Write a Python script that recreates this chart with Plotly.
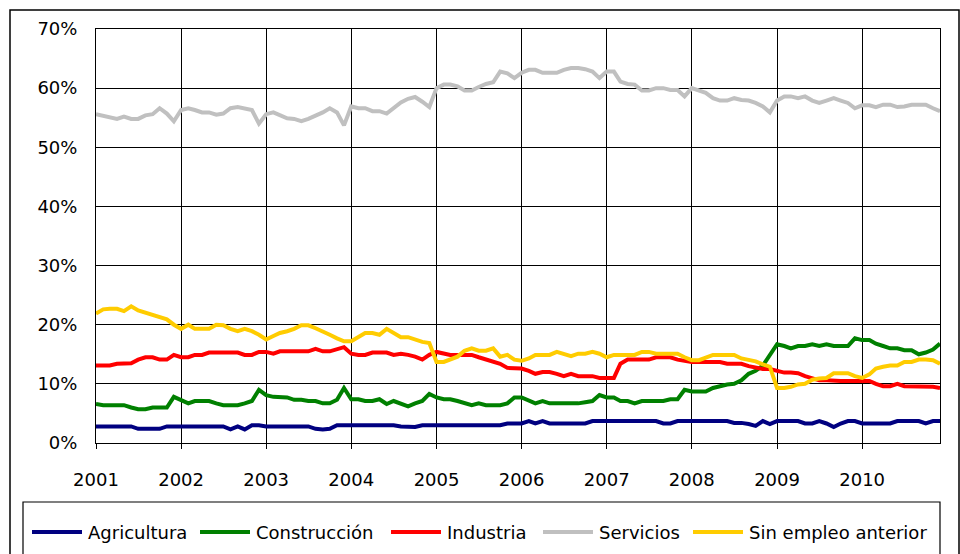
"""Monthly share of unemployed by previous sector, 2001-2010."""

import pandas as pd
import plotly.graph_objects as go

# Monthly observations, Jan 2001 .. Dec 2010 (percent)
months = pd.date_range("2001-01-01", periods=120, freq="MS")

agricultura = [
    2.8, 2.8, 2.8, 2.8, 2.8, 2.8, 2.4, 2.4, 2.4, 2.4,
    2.8, 2.8, 2.8, 2.8, 2.8, 2.8, 2.8, 2.8, 2.8, 2.3,
    2.8, 2.3, 3.0, 3.0, 2.8, 2.8, 2.8, 2.8, 2.8, 2.8,
    2.8, 2.4, 2.3, 2.4, 3.0, 3.0, 3.0, 3.0, 3.0, 3.0,
    3.0, 3.0, 3.0, 2.8, 2.7, 2.7, 3.0, 3.0, 3.0, 3.0,
    3.0, 3.0, 3.0, 3.0, 3.0, 3.0, 3.0, 3.0, 3.3, 3.3,
    3.3, 3.7, 3.3, 3.7, 3.3, 3.3, 3.3, 3.3, 3.3, 3.3,
    3.7, 3.7, 3.7, 3.7, 3.7, 3.7, 3.7, 3.7, 3.7, 3.7,
    3.3, 3.3, 3.7, 3.7, 3.7, 3.7, 3.7, 3.7, 3.7, 3.7,
    3.4, 3.4, 3.2, 2.9, 3.7, 3.2, 3.7, 3.7, 3.7, 3.7,
    3.3, 3.3, 3.7, 3.3, 2.7, 3.3, 3.7, 3.7, 3.3, 3.3,
    3.3, 3.3, 3.3, 3.7, 3.7, 3.7, 3.7, 3.3, 3.7, 3.7,
]

construccion = [
    6.6, 6.4, 6.4, 6.4, 6.4, 6.0, 5.7, 5.7, 6.0, 6.0,
    6.0, 7.8, 7.2, 6.7, 7.1, 7.1, 7.1, 6.7, 6.4, 6.4,
    6.4, 6.7, 7.1, 9.0, 8.1, 7.8, 7.7, 7.7, 7.3, 7.3,
    7.1, 7.1, 6.7, 6.7, 7.3, 9.3, 7.4, 7.4, 7.1, 7.1,
    7.4, 6.6, 7.1, 6.7, 6.2, 6.7, 7.1, 8.3, 7.7, 7.4,
    7.4, 7.1, 6.7, 6.4, 6.7, 6.4, 6.4, 6.4, 6.7, 7.7,
    7.7, 7.1, 6.7, 7.1, 6.7, 6.7, 6.7, 6.7, 6.7, 6.9,
    7.1, 8.1, 7.7, 7.7, 7.1, 7.1, 6.7, 7.1, 7.1, 7.1,
    7.1, 7.4, 7.4, 9.0, 8.7, 8.7, 8.7, 9.3, 9.6, 9.9,
    10.0, 10.6, 11.7, 12.2, 13.1, 14.9, 16.7, 16.4, 16.0, 16.4,
    16.4, 16.7, 16.4, 16.7, 16.4, 16.4, 16.4, 17.7, 17.4, 17.4,
    16.8, 16.4, 16.0, 16.0, 15.7, 15.7, 15.0, 15.3, 15.8, 16.8,
]

industria = [
    13.1, 13.1, 13.1, 13.4, 13.5, 13.5, 14.1, 14.5, 14.5, 14.1,
    14.1, 14.9, 14.5, 14.5, 14.9, 14.9, 15.3, 15.3, 15.3, 15.3,
    15.3, 14.9, 14.9, 15.4, 15.4, 15.1, 15.5, 15.5, 15.5, 15.5,
    15.5, 15.9, 15.5, 15.5, 15.9, 16.2, 15.1, 14.9, 14.9, 15.3,
    15.3, 15.3, 14.9, 15.1, 14.9, 14.6, 14.1, 14.9, 15.4, 15.1,
    14.9, 14.9, 14.9, 14.9, 14.5, 14.1, 13.8, 13.4, 12.7, 12.6,
    12.6, 12.2, 11.7, 12.0, 12.0, 11.7, 11.3, 11.7, 11.3, 11.3,
    11.3, 11.0, 11.0, 11.0, 13.4, 14.1, 14.1, 14.1, 14.1, 14.5,
    14.5, 14.5, 14.1, 13.9, 13.7, 13.7, 13.7, 13.7, 13.7, 13.4,
    13.4, 13.4, 13.0, 12.7, 12.5, 12.5, 12.2, 11.9, 11.9, 11.8,
    11.3, 10.9, 10.6, 10.6, 10.5, 10.5, 10.5, 10.5, 10.5, 10.5,
    10.0, 9.6, 9.6, 10.0, 9.6, 9.6, 9.6, 9.6, 9.5, 9.3,
]

servicios = [
    55.6, 55.3, 55.2, 54.8, 55.2, 54.8, 54.8, 55.4, 55.6, 56.6,
    55.7, 54.4, 56.3, 56.6, 56.3, 55.9, 55.9, 55.5, 55.7, 56.6,
    56.8, 56.6, 56.3, 54.0, 55.6, 55.9, 55.4, 54.9, 54.8, 54.4,
    54.8, 55.3, 55.9, 56.6, 55.9, 53.7, 56.9, 56.6, 56.6, 56.1,
    56.1, 55.7, 56.7, 57.6, 58.2, 58.5, 57.7, 56.8, 60.0, 60.6,
    60.6, 60.3, 59.6, 59.6, 60.2, 60.7, 61.0, 62.8, 62.5, 61.7,
    62.6, 63.1, 63.1, 62.6, 62.6, 62.6, 63.1, 63.4, 63.4, 63.2,
    62.8, 61.7, 62.8, 62.8, 61.1, 60.7, 60.6, 59.6, 59.6, 60.0,
    60.0, 59.7, 59.7, 58.6, 60.0, 59.6, 59.2, 58.3, 57.9, 57.9,
    58.3, 58.0, 57.9, 57.5, 56.9, 55.9, 57.9, 58.6, 58.6, 58.3,
    58.6, 57.9, 57.5, 57.9, 58.3, 57.9, 57.5, 56.6, 57.1, 57.1,
    56.8, 57.2, 57.2, 56.8, 56.9, 57.2, 57.2, 57.2, 56.6, 56.1,
]

sin_empleo_anterior = [
    21.9, 22.6, 22.7, 22.7, 22.3, 23.1, 22.4, 22.0, 21.7, 21.3,
    20.9, 20.0, 19.3, 20.0, 19.3, 19.3, 19.3, 20.0, 19.9, 19.3,
    18.9, 19.3, 18.9, 18.3, 17.5, 18.1, 18.6, 18.9, 19.3, 19.9,
    19.9, 19.4, 18.9, 18.3, 17.7, 17.2, 17.2, 18.0, 18.6, 18.6,
    18.3, 19.3, 18.6, 17.9, 17.9, 17.5, 17.1, 16.9, 13.7, 13.7,
    14.1, 14.6, 15.6, 16.0, 15.6, 15.6, 16.0, 14.6, 14.9, 14.1,
    13.9, 14.3, 14.9, 14.9, 14.9, 15.4, 15.0, 14.7, 15.1, 15.1,
    15.4, 15.1, 14.5, 14.9, 14.9, 14.9, 14.9, 15.4, 15.4, 15.1,
    15.1, 15.1, 15.1, 14.5, 14.0, 14.0, 14.4, 14.9, 14.9, 14.9,
    14.9, 14.3, 14.1, 13.8, 13.3, 12.9, 9.3, 9.3, 9.5, 9.9,
    10.0, 10.7, 10.9, 11.0, 11.8, 11.8, 11.8, 11.3, 11.0, 11.6,
    12.6, 12.9, 13.1, 13.1, 13.7, 13.7, 14.1, 14.1, 14.0, 13.4,
]

series_names = ["Agricultura", "Construcción", "Industria", "Servicios", "Sin empleo anterior"]
series_values = [agricultura, construccion, industria, servicios, sin_empleo_anterior]
series_colors = ["#000080", "#008000", "#FF0000", "#C0C0C0", "#FFCC00"]

FONT = dict(family="DejaVu Sans", size=18, color="#000000")

# Plot area in pixels (fixed margins)
W, H = 960, 554
L, R, T, B = 96, 20, 29, 111
PW, PH = W - L - R, H - T - B


def _px(x: float, y: float) -> tuple[float, float]:
    """Pixel position on the page -> paper coordinates."""
    return (x - L) / PW, (H - B - y) / PH


fig = go.Figure()
for name, values, color in zip(series_names, series_values, series_colors):
    fig.add_trace(
        go.Scatter(
            x=months,
            y=values,
            mode="lines",
            name=name,
            line=dict(color=color, width=4),
        )
    )

# Outer chart frame and legend box (Excel-style)
x0, y0 = _px(10, 10)
x1, y1 = _px(959, 600)
fig.add_shape(type="rect", xref="paper", yref="paper", x0=x0, x1=x1, y0=y1, y1=y0,
              line=dict(color="#000000", width=1.5), layer="below")
x0, y0 = _px(23, 502)
x1, y1 = _px(940, 600)
fig.add_shape(type="rect", xref="paper", yref="paper", x0=x0, x1=x1, y0=y1, y1=y0,
              line=dict(color="#000000", width=1.2), layer="below")

# Legend entries: long line sample followed by the series name
legend_line_x = [32, 200, 391, 543, 693]
legend_y = 532
for name, color, lx in zip(series_names, series_colors, legend_line_x):
    ax0, ay = _px(lx, legend_y)
    ax1, _ = _px(lx + 50, legend_y)
    tx, _ = _px(lx + 54, legend_y)
    fig.add_shape(type="line", xref="paper", yref="paper", x0=ax0, x1=ax1, y0=ay, y1=ay,
                  line=dict(color=color, width=4))
    fig.add_annotation(x=tx, y=ay, xref="paper", yref="paper", text=name,
                       showarrow=False, xanchor="left", yanchor="middle", font=FONT)

fig.update_layout(
    width=W,
    height=H,
    margin=dict(l=L, r=R, t=T, b=B, autoexpand=False),
    paper_bgcolor="white",
    plot_bgcolor="white",
    font=FONT,
    showlegend=False,
)

fig.update_xaxes(
    type="date",
    range=["2001-01-01", "2010-12-01"],
    dtick="M12",
    tick0="2001-01-01",
    tickformat="%Y",
    ticks="outside",
    ticklen=5,
    tickcolor="#000000",
    ticklabelstandoff=15,
    showgrid=True,
    gridcolor="#000000",
    gridwidth=1,
    showline=True,
    linecolor="#000000",
    linewidth=1,
    mirror=True,
    zeroline=False,
)

fig.update_yaxes(
    range=[0, 70],
    dtick=10,
    ticksuffix="%",
    showgrid=True,
    gridcolor="#000000",
    gridwidth=1,
    showline=True,
    linecolor="#000000",
    linewidth=1,
    mirror=True,
    zeroline=False,
    ticklabelstandoff=14,
)

# Drop the default page margin so the figure sits at the window origin
fig.write_html(
    "out.html",
    config={"displayModeBar": False},
    post_script="document.body.style.margin='0';document.body.style.overflow='hidden';",
)
